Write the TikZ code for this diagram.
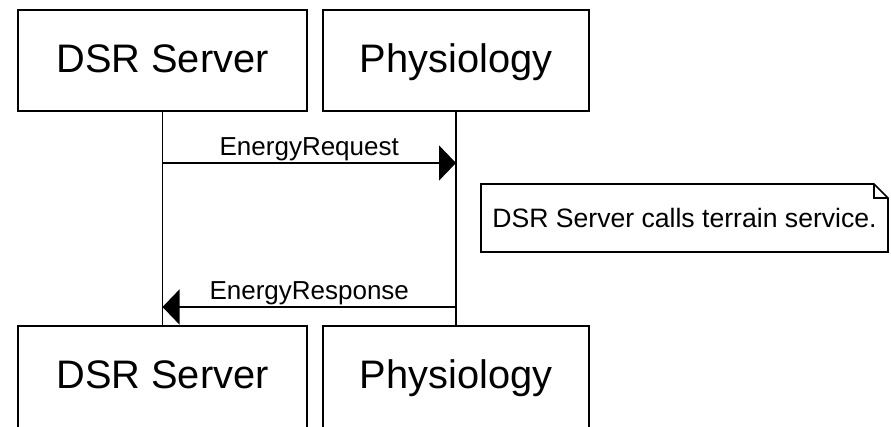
\documentclass[tikz,border=0pt]{standalone}
\usepackage{fontspec}
\setmainfont{Liberation Sans}
\usetikzlibrary{arrows.meta, positioning, calc}

\begin{document}
\begin{tikzpicture}[x=1pt, y=-1pt, line width=1.6pt,
    actor/.style={draw, minimum width=#1, minimum height=101pt, inner sep=0pt,
        font=\fontsize{39.8}{42}\selectfont, text height=28.5pt, text depth=4pt},
    msg/.style={-{Triangle[length=17pt, width=35pt]}},
    msglabel/.style={above, inner sep=1pt, font=\fontsize{26}{28}\selectfont}]
    \useasboundingbox (0,0) rectangle (891,426);
    \fill[white] (0,0) rectangle (891,426);
    \clip (0,0) rectangle (891,426);

    % Partecipanti
    \node[actor=289pt] (dsrtop) at (162.5,60.5) {DSR Server};
    \node[actor=266pt] (phytop) at (456,60.5) {Physiology};
    \node[actor=289pt, minimum height=120pt, text depth=23pt] (dsrbot) at (162.5,386) {DSR Server};
    \node[actor=266pt, minimum height=120pt, text depth=23pt] (phybot) at (456,386) {Physiology};

    % Linee di vita
    \draw (dsrtop.south) -- (dsrbot.north);
    \draw (phytop.south) -- (phybot.north);

    % Richiesta
    \coordinate (reqa) at (dsrtop.south |- 0,163);
    \coordinate (reqb) at (phytop.south |- 0,163);
    \draw[msg] (reqa) -- (reqb) node[midway, msglabel] {EnergyRequest};

    % Nota
    \draw (481,184) -- (874,184) -- (888,198) -- (888,252) -- (481,252) -- cycle;
    \draw (874,184) -- (874,198) -- (888,198);
    \node[font=\fontsize{26.6}{28}\selectfont] (nota) at (684.5,218) {DSR Server calls terrain service.};

    % Risposta
    \coordinate (resa) at (phytop.south |- 0,307);
    \coordinate (resb) at (dsrtop.south |- 0,307);
    \draw[msg] (resa) -- (resb) node[midway, msglabel] {EnergyResponse};
\end{tikzpicture}
\end{document}
